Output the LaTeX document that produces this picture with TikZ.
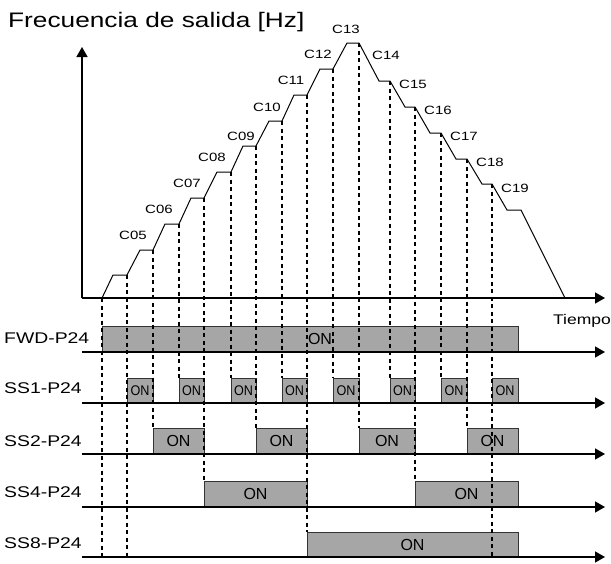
\documentclass[tikz,border=0pt]{standalone}
\usepackage{fontspec}
\setmainfont{Liberation Sans}[FakeStretch=1.25]
\newfontfamily\onfont{Liberation Sans}
\newfontfamily\onnarrowfont{Liberation Sans}[FakeStretch=0.9]
\usetikzlibrary{arrows.meta}
\definecolor{BoxGray}{HTML}{A6A6A6}
\definecolor{EdgeGray}{HTML}{333333}

\begin{document}
\begin{tikzpicture}[
    x=1pt, y=-1pt,
    axis/.style={line width=1.5pt, -{Triangle[length=10pt,width=11pt]}},
    trace/.style={line width=1pt, line join=miter},
    guide/.style={line width=1.3pt, dash pattern=on 4pt off 3.5pt},
    onbox/.style={draw=EdgeGray, fill=BoxGray, line width=0.8pt},
    ontext/.style={font=\onfont\fontsize{16}{16}\selectfont, inner sep=0pt},
    smallon/.style={font=\onnarrowfont\fontsize{14}{14}\selectfont, inner sep=0pt},
    clabel/.style={font=\fontsize{12}{12}\selectfont, inner sep=0pt},
    rowlabel/.style={font=\fontsize{15.5}{15.5}\selectfont, inner sep=0pt, anchor=base west}
  ]
    \useasboundingbox (0,0) rectangle (611,563);

    \node[anchor=base west, inner sep=0pt, font=\fontsize{21}{21}\selectfont] (title) at (8,27) {Frecuencia de salida [Hz]};
    \node[anchor=base west, inner sep=0pt, font=\fontsize{14}{14}\selectfont] (tiempo) at (553,324) {Tiempo};

    % signal boxes
    \draw[onbox] (102,326) rectangle (518,352);
    \node[ontext] (fwdon) at (320,339) {ON};
    \foreach \a/\b [count=\i] in {127/153,179/204,231/256,282/307,333/359,390/415,441/467,492/518}
      \draw[onbox] (\a,378) rectangle (\b,403) node[smallon, midway] (ssone\i) {ON};
    \foreach \a/\b [count=\i] in {153/204,256/307,359/415,467/518}
      \draw[onbox] (\a,428) rectangle (\b,454) node[ontext, midway] (sstwo\i) {ON};
    \foreach \a/\b [count=\i] in {204/307,415/518}
      \draw[onbox] (\a,481) rectangle (\b,507) node[ontext, midway] (ssfour\i) {ON};
    \draw[onbox] (307,532) rectangle (518,557) node[ontext, midway] (sseight1) {ON};

    % axes
    \draw[axis] (82,298) -- (82,47);
    \draw[axis] (82,298) -- (605,298);
    \foreach \y in {352,403,454,507,557}
      \draw[axis] (82,\y) -- (605,\y);

    % output frequency
    \draw[trace] (102,298) -- (113,275) -- (127,275) -- (140,250) -- (153,250) -- (165,224) -- (179,224)
      -- (191,198) -- (204,198) -- (217,172) -- (231,172) -- (243,146) -- (256,146) -- (269,121) -- (282,121)
      -- (294,95) -- (307,95) -- (320,69) -- (333,69) -- (347,43) -- (359,43) -- (379,81) -- (390,81)
      -- (405,107) -- (415,107) -- (430,133) -- (441,133) -- (456,159) -- (467,159) -- (482,184) -- (492,184)
      -- (507,210) -- (521,210) -- (565,298);

    \foreach \x/\ya/\yb in {102/298/557,127/275/557,153/250/428,179/224/378,204/198/481,231/172/378,
        256/146/428,282/121/378,307/95/532,333/69/378,359/43/428,390/81/378,415/107/481,441/133/378,
        467/159/428,492/184/557}
      \draw[guide] (\x,\ya) -- (\x,\yb);

    \foreach \n/\x/\y in {05/133/235,06/159/209,07/187/183,08/212/157,09/241/136,10/267/107,11/291/80,
        12/318/54,13/346/29,14/386/55,15/413/84,16/438/110,17/464/136,18/490/162,19/515/188}
      \node[clabel] (c\n) at (\x,\y) {C\n};

    \node[rowlabel] (fwd) at (4,343) {FWD-P24};
    \node[rowlabel] (ss1) at (4,393) {SS1-P24};
    \node[rowlabel] (ss2) at (4,446) {SS2-P24};
    \node[rowlabel] (ss4) at (4,497) {SS4-P24};
    \node[rowlabel] (ss8) at (4,548) {SS8-P24};
  \end{tikzpicture}
\end{document}
